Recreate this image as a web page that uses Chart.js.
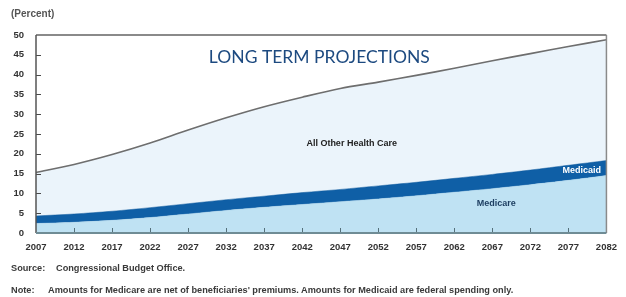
<!DOCTYPE html>
<html>
<head>
<meta charset="utf-8">
<script src="https://cdn.jsdelivr.net/npm/chart.js@4.4.1/dist/chart.umd.min.js"></script>
<style>
  html, body { margin: 0; padding: 0; background: #fff; }
  #wrap { position: relative; width: 626px; height: 297px; overflow: hidden; }
  canvas { position: absolute; left: 0; top: 0; }
  .t { position: absolute; white-space: nowrap; font-family: "Liberation Sans Narrow", "Arial Narrow", "Liberation Sans", sans-serif; font-weight: bold; color: #3a3a3a; }
</style>
</head>
<body>
<div id="wrap">
  <canvas id="c" width="626" height="297"></canvas>
  <div class="t" style="left:11px; top:8px; font-size:10px; color:#555;">(Percent)</div>
  <div class="t" style="left:11px; top:263px; font-size:9.2px;">Source:<span style="position:absolute; left:45px;">Congressional Budget Office.</span></div>
  <div class="t" style="left:11px; top:285px; font-size:9.2px;">Note:<span style="position:absolute; left:37px;">Amounts for Medicare are net of beneficiaries' premiums. Amounts for Medicaid are federal spending only.</span></div>
</div>
<script>
const years = ["2007","2012","2017","2022","2027","2032","2037","2042","2047","2052","2057","2062","2067","2072","2077","2082"];
const yTicks = [0,5,10,15,20,25,30,35,40,45,50];
const medicare = [2.4,2.7,3.2,3.9,4.8,5.7,6.5,7.2,7.9,8.6,9.4,10.3,11.2,12.2,13.3,14.5];
const medicaid = [1.9,2.1,2.3,2.5,2.6,2.7,2.8,3.0,3.1,3.3,3.4,3.5,3.6,3.7,3.8,3.8];
const allOther = [11.0,12.5,14.3,16.3,18.6,20.7,22.6,24.1,25.5,26.2,27.0,27.8,28.7,29.4,30.0,30.5];
const title = "LONG TERM PROJECTIONS";

const FONT = '"Liberation Sans Narrow", "Arial Narrow", "Liberation Sans", sans-serif';

const decor = {
  id: 'decor',
  beforeDatasetsDraw(chart) {
    const {ctx, chartArea: a} = chart;
    ctx.save();
    ctx.fillStyle = '#ffffff';
    ctx.fillRect(a.left, a.top, a.right - a.left, a.bottom - a.top);
    ctx.restore();
  },
  afterDatasetsDraw(chart) {
    const {ctx, chartArea: a, scales: {x, y}} = chart;
    ctx.save();
    ctx.strokeStyle = '#4a4a4a';
    ctx.lineWidth = 1;
    yTicks.forEach(v => {
      if (v === 0 || v === 50) return;
      const py = Math.round(y.getPixelForValue(v)) + 0.5;
      ctx.beginPath(); ctx.moveTo(a.left, py); ctx.lineTo(a.left + 5, py); ctx.stroke();
    });
    ctx.strokeStyle = '#55707a';
    years.forEach((yr, i) => {
      if (i === 0 || i === years.length - 1) return;
      const px = Math.round(x.getPixelForValue(i)) + 0.5;
      ctx.beginPath(); ctx.moveTo(px, a.bottom); ctx.lineTo(px, a.bottom - 5); ctx.stroke();
    });
    ctx.strokeStyle = '#8a8a8a';
    ctx.lineWidth = 2;
    ctx.beginPath(); ctx.moveTo(a.left, a.top); ctx.lineTo(a.right, a.top); ctx.stroke();
    ctx.lineWidth = 1.5;
    ctx.beginPath(); ctx.moveTo(a.right, a.top); ctx.lineTo(a.right, a.bottom); ctx.stroke();
    ctx.strokeStyle = '#555';
    ctx.lineWidth = 1.5;
    ctx.beginPath(); ctx.moveTo(a.left, a.top); ctx.lineTo(a.left, a.bottom); ctx.stroke();
    ctx.strokeStyle = '#6f8c95';
    ctx.lineWidth = 2;
    ctx.beginPath(); ctx.moveTo(a.left, a.bottom); ctx.lineTo(a.right, a.bottom); ctx.stroke();

    ctx.fillStyle = '#1d4a80';
    ctx.font = '17.5px "Lato", "Open Sans", sans-serif';
    ctx.textAlign = 'center';
    ctx.textBaseline = 'middle';
    ctx.fillText(title, x.getPixelForValue(7.45), y.getPixelForValue(44.4));

    ctx.font = 'bold 9px ' + FONT;
    ctx.fillStyle = '#222';
    ctx.fillText('All Other Health Care', x.getPixelForValue(8.3), y.getPixelForValue(22.5));
    ctx.fillStyle = '#1e3f62';
    ctx.fillText('Medicare', x.getPixelForValue(12.1), y.getPixelForValue(7.5));
    ctx.fillStyle = '#ffffff';
    ctx.fillText('Medicaid', x.getPixelForValue(14.35), y.getPixelForValue(15.7));
    ctx.restore();
  }
};

new Chart(document.getElementById('c'), {
  type: 'line',
  data: {
    labels: years,
    datasets: [
      { label: 'Medicare', data: medicare, fill: 'origin', backgroundColor: '#bfe2f3', borderColor: '#a9d3ea', borderWidth: 0.5, pointRadius: 0, tension: 0.3 },
      { label: 'Medicaid', data: medicaid, fill: '-1', backgroundColor: '#0f5fa6', borderColor: '#0e5a9e', borderWidth: 0.5, pointRadius: 0, tension: 0.3 },
      { label: 'All Other Health Care', data: allOther, fill: '-1', backgroundColor: '#ebf4fb', borderColor: '#6e6e6e', borderWidth: 1.6, pointRadius: 0, tension: 0.3 }
    ]
  },
  options: {
    responsive: false,
    animation: false,
    devicePixelRatio: 1,
    layout: { padding: { left: 0, top: 35, right: 12, bottom: 0 } },
    plugins: { legend: { display: false }, tooltip: { enabled: false } },
    scales: {
      x: {
        type: 'category',
        offset: false,
        grid: { display: false, drawTicks: false },
        border: { display: false },
        ticks: { color: '#333', font: { family: FONT, weight: 'bold', size: 9.5 }, padding: 9, maxRotation: 0, autoSkip: false },
        afterFit(s) { s.height = 64; }
      },
      y: {
        stacked: true,
        min: 0, max: 50,
        afterBuildTicks(s) { s.ticks = yTicks.map(v => ({ value: v })); },
        grid: { display: false, drawTicks: false },
        border: { display: false },
        ticks: { color: '#333', font: { family: FONT, weight: 'bold', size: 9.5 }, padding: 12 },
        afterFit(s) { s.width = 36; }
      }
    }
  },
  plugins: [decor]
});
</script>
</body>
</html>
